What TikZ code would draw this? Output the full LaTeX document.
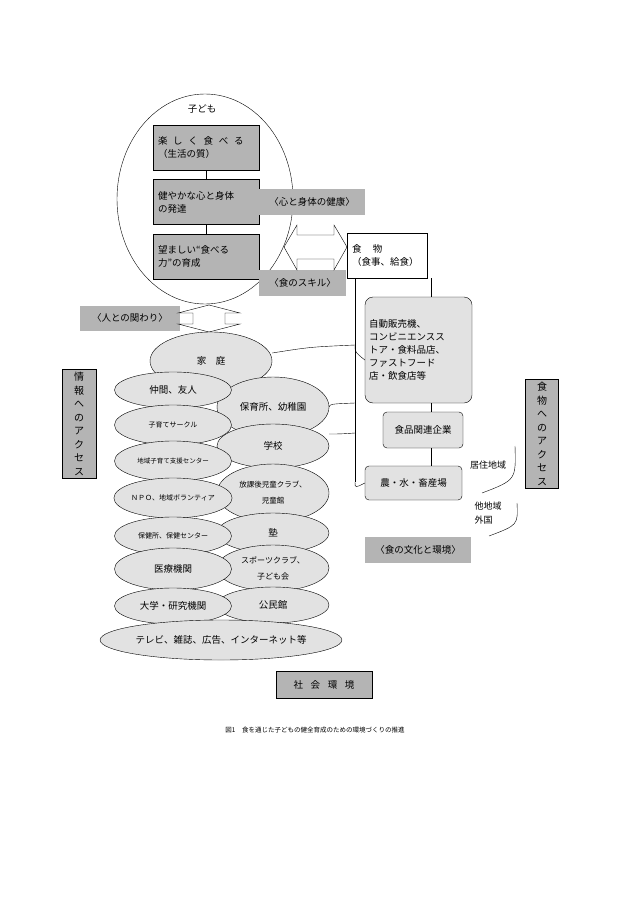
\documentclass[tikz,border=0pt]{standalone}
\usepackage{fontspec}
\setmainfont{Noto Sans CJK JP}
\usetikzlibrary{shapes.geometric}
\definecolor{dg}{HTML}{B4B4B4}
\definecolor{lg}{HTML}{E2E2E2}
\begin{document}
\begin{tikzpicture}[x=1pt,y=-1pt,font=\fontsize{9.5}{13}\selectfont,
  dbox/.style={draw,fill=dg,minimum width=106,minimum height=45,text width=96,align=left,inner sep=4},
  gbox/.style={fill=dg,inner sep=3,minimum height=26,align=center},
  vbox/.style={draw,fill=dg,align=center,inner sep=3,font=\fontsize{10}{13.5}\selectfont},
  el/.style={draw,ellipse,fill=lg,inner sep=0,align=center},
  rbox/.style={draw,fill=lg,rounded corners=8,align=left,inner sep=4},
  ln/.style={draw,thin}]
\useasboundingbox (0,0) rectangle (630,912);
\fill[white] (0,0) rectangle (630,912);
% child ellipse
\node[draw,ellipse,minimum width=176,minimum height=210,inner sep=0] (child) at (205,199) {};
\node (kodomo) at (202,109) {子ども};
\node[dbox] (b1) at (206,147.5) {楽\hspace{0.6em}し\hspace{0.6em}く\hspace{0.6em}食\hspace{0.6em}べ\hspace{0.6em}る\\（生活の質）};
\node[dbox] (b2) at (206,202) {健やかな心と身体\\の発達};
\node[dbox] (b3) at (206,256.5) {望ましい“食べる\\力”の育成};
\draw (b1) -- (b2); \draw (b2) -- (b3);
\node[gbox,minimum width=106] (kenko) at (312,202) {〈心と身体の健康〉};
\node[gbox,minimum width=87] (skill) at (302.5,283) {〈食のスキル〉};
% horizontal double arrow
\draw[fill=white] (284,247)--(297,225)--(297,235)--(334,235)--(334,225)--(347,247)--(334,270)--(334,259)--(297,259)--(297,270)--cycle;
\node[draw,fill=white,minimum width=80,minimum height=45,align=left,inner sep=4,text width=70] (food) at (387,255.5) {食\hspace{1.2em}物\\（食事、給食）};
% relation
\node[gbox,minimum width=100,minimum height=25] (hito) at (130,318) {〈人との関わり〉};
\draw[fill=white] (209,305)--(240,313)--(225,313)--(225,324)--(240,324)--(209,332)--(178,324)--(193,324)--(193,313)--(178,313)--cycle;
% info access
\node[vbox,minimum width=34,minimum height=98] (info) at (79,424) {情\\報\\へ\\の\\ア\\ク\\セ\\ス};
% ellipses
\node[el,minimum width=122,minimum height=58] (katei) at (211,361) {家\hspace{1em}庭};
\node[el,minimum width=112,minimum height=60] (hoiku) at (273,407) {保育所、幼稚園};
\node[el,minimum width=112,minimum height=44] (gakko) at (273,446) {学校};
\node[el,minimum width=112,minimum height=58,font=\fontsize{7.5}{16}\selectfont] (houkago) at (273,493) {放課後児童クラブ、\\児童館};
\node[el,minimum width=112,minimum height=40] (juku) at (273,533) {塾};
\node[el,minimum width=112,minimum height=46,font=\fontsize{8}{16}\selectfont] (sports) at (273,568) {スポーツクラブ、\\子ども会};
\node[el,minimum width=112,minimum height=36] (kominkan) at (273,605) {公民館};
\node[el,minimum width=117,minimum height=36] (nakama) at (173,390) {仲間、友人};
\node[el,minimum width=117,minimum height=40,font=\fontsize{7}{9}\selectfont] (circle) at (173,425) {子育てサークル};
\node[el,minimum width=117,minimum height=40,font=\fontsize{6.5}{9}\selectfont] (shien) at (173,461) {地域子育て支援センター};
\node[el,minimum width=117,minimum height=40,font=\fontsize{7}{9}\selectfont] (npo) at (173,498) {ＮＰＯ、地域ボランティア};
\node[el,minimum width=117,minimum height=38,font=\fontsize{7}{9}\selectfont] (hoken) at (173,536) {保健所、保健センター};
\node[el,minimum width=117,minimum height=42] (iryo) at (173,569) {医療機関};
\node[el,minimum width=117,minimum height=36] (daigaku) at (173,606) {大学・研究機関};
\node[el,minimum width=218,minimum height=40] (tv) at (221,640) {テレビ、雑誌、広告、インターネット等};
% right column
\coordinate (vtop) at (355,278);
\coordinate (vbot) at (355,482);
\draw (vtop) -- (vbot);
\node[rbox,minimum width=107,minimum height=106,text width=99] (jihan) at (418.5,350) {自動販売機、\\コンビニエンスス\\トア・食料品店、\\ファストフード\\店・飲食店等};
\node[rbox,rounded corners=4,minimum width=80,minimum height=36] (kigyo) at (423,430) {食品関連企業};
\node[rbox,rounded corners=4,minimum width=97,minimum height=34] (farm) at (413.5,483) {農・水・畜産場};
\draw (food.south -| jihan.north) ++(13,0) coordinate (fj) -- (fj |- jihan.north);
\draw (jihan.south -| fj) -- (kigyo.north -| fj);
\draw (kigyo.south -| fj) -- (farm.north -| fj);
\draw (vbot) .. controls (355,488) .. (farm.west);
\coordinate (m1) at (355,345); \coordinate (m2) at (355,403); \coordinate (m3) at (355,433);
\draw (katei.east) ++(0,-8) .. controls (310,347) .. (m1);
\draw (hoiku.east) .. controls (330,404) .. (m2);
\draw (gakko.east) ++(0,-12) .. controls (340,434) .. (m3);
\draw (m1) .. controls (355,352) .. (jihan.west |- 0,360);
\node[font=\fontsize{9}{12}\selectfont] (kyoju) at (488,465) {居住地域};
\node[font=\fontsize{9}{14}\selectfont,align=left] (tachi) at (488,513) {他地域\\外国};
\coordinate (a1) at (515,446); \coordinate (a2) at (482,493);
\coordinate (a3) at (517,503); \coordinate (a4) at (489,536);
\draw (a1) .. controls (516,480) .. (a2);
\draw (a3) .. controls (518,525) .. (a4);
\node[vbox,minimum width=33,minimum height=96] (shokuacc) at (542,434) {食\\物\\へ\\の\\ア\\ク\\セ\\ス};
\node[gbox,minimum width=106] (bunka) at (418,550) {〈食の文化と環境〉};
\node[draw,line width=1pt,fill=dg,minimum width=96,minimum height=27] (shakai) at (324,684.5) {社\hspace{0.8em}会\hspace{0.8em}環\hspace{0.8em}境};
\node[font=\fontsize{6.5}{8}\selectfont] (cap) at (315,730) {図1\quad 食を通じた子どもの健全育成のための環境づくりの推進};
\end{tikzpicture}
\end{document}
